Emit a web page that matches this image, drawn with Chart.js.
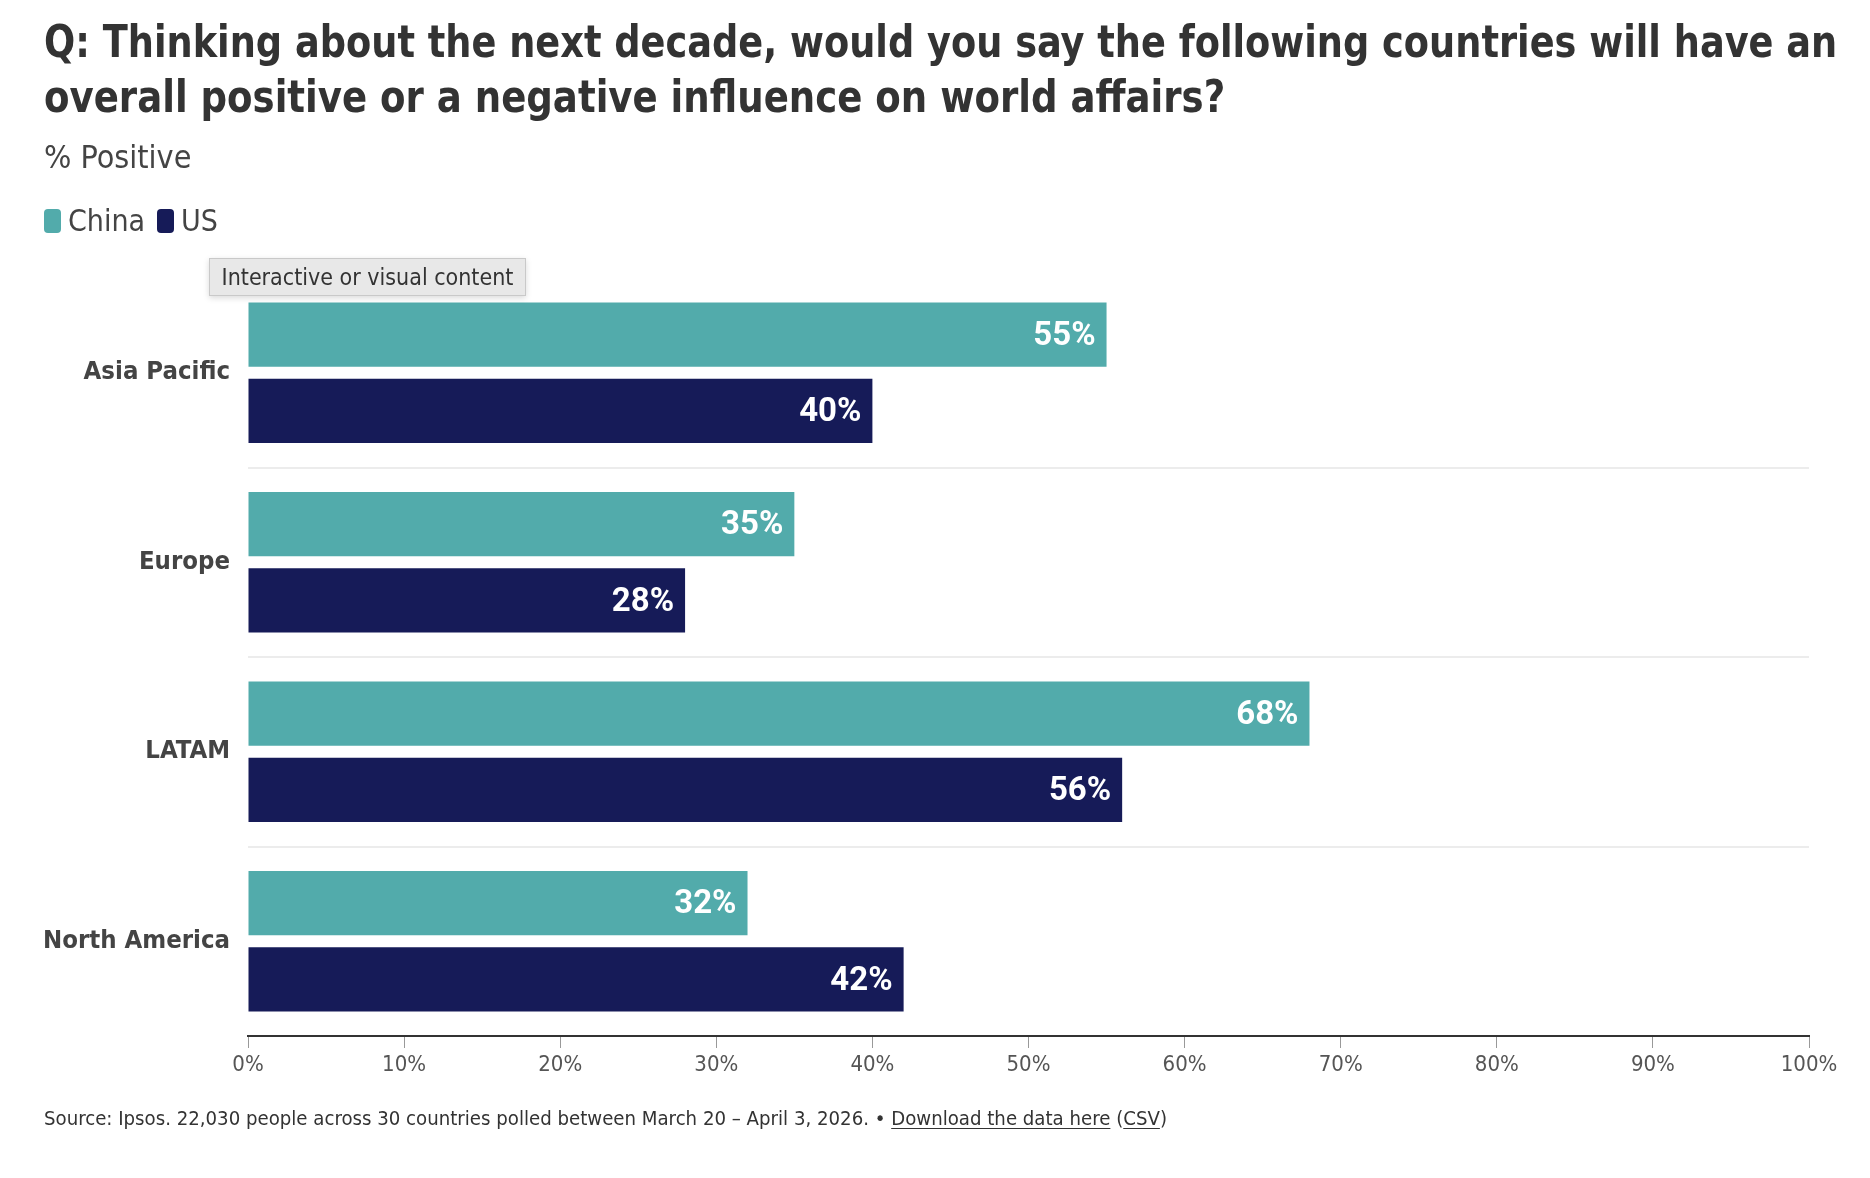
<!DOCTYPE html>
<html>
<head>
<meta charset="utf-8">
<script src="https://cdn.jsdelivr.net/npm/chart.js@4.4.1/dist/chart.umd.min.js"></script>
<style>
  html, body { margin: 0; padding: 0; background: #fff; }
  body { width: 1870px; height: 1178px; position: relative; overflow: hidden;
         font-family: 'Liberation Sans Narrow', 'DejaVu Sans Condensed', Roboto, sans-serif; }
  #wrap { position: absolute; left: 0; top: 0; width: 1870px; height: 1178px; }
  .title { position: absolute; left: 44px; top: 14px; font-size: 44px; font-weight: bold;
           line-height: 55px; color: #333; white-space: nowrap; }
  .title span { display: inline-block; transform-origin: 0 50%; }
  .sub { position: absolute; left: 44px; top: 138px; font-size: 32px; color: #444; }
  .legend { position: absolute; left: 44px; top: 203px; font-size: 30px; color: #444; display: flex; align-items: center; }
  .legend span.sw { display: inline-block; width: 17px; height: 24px; border-radius: 4px; margin-right: 7px; }
  .legend span.lab { margin-right: 12px; }
  .tip { position: absolute; left: 209px; top: 258px; width: 315px; height: 36px; background: #e8e8e8;
         border: 1px solid #c9c9c9; box-shadow: 0 2px 6px rgba(0,0,0,0.15);
         font-size: 23px; color: #333; line-height: 36px; text-align: center; z-index: 3; }
  .foot { position: absolute; left: 44px; top: 1106px; font-size: 20.2px; color: #333; white-space: nowrap; }
  .foot u { text-decoration-thickness: 1px; text-underline-offset: 3px; }
</style>
</head>
<body>
<div id="wrap"><canvas id="myChart"></canvas></div>
<div class="title"><span id="t1">Q: Thinking about the next decade, would you say the following countries will have an</span><br><span id="t2">overall positive or a negative influence on world affairs?</span></div>
<div class="sub">% Positive</div>
<div class="legend" id="legend"></div>
<div class="tip">Interactive or visual content</div>
<div class="foot">Source: Ipsos. 22,030 people across 30 countries polled between March 20 – April 3, 2026. • <u>Download the data here</u> (<u>CSV</u>)</div>
<script>
const ctx = document.getElementById('myChart');

const FONT = "'Liberation Sans Narrow', 'DejaVu Sans Condensed', Roboto, sans-serif";

let regions = ['Asia Pacific', 'Europe', 'LATAM', 'North America'];
let chinaData = [55, 35, 68, 32];
let usData = [40, 28, 56, 42];
let xTicks = [0, 10, 20, 30, 40, 50, 60, 70, 80, 90, 100];

// squeeze the title lines so they end where the original ones do
const t1 = document.getElementById('t1');
const t2 = document.getElementById('t2');
t1.style.transform = 'scaleX(' + (1793 / t1.offsetWidth) + ')';
t2.style.transform = 'scaleX(' + (1181 / t2.offsetWidth) + ')';

const data = {
    labels: regions,
    datasets: [
        {
            label: 'China',
            data: chinaData,
            backgroundColor: '#52abab'
        }, {
            label: 'US',
            data: usData,
            backgroundColor: '#161b58'
        }
    ]
};

// legend drawn as html, from the datasets
const legendEl = document.getElementById('legend');
data.datasets.forEach(ds => {
    legendEl.innerHTML += '<span class="sw" style="background:' + ds.backgroundColor + '"></span><span class="lab">' + ds.label + '</span>';
});

// white value labels inside the bar ends
const valueLabels = {
    id: 'valueLabels',
    afterDatasetsDraw(chart) {
        const c = chart.ctx;
        c.save();
        c.font = "bold 33px Roboto, sans-serif";
        c.fillStyle = '#ffffff';
        c.textAlign = 'right';
        c.textBaseline = 'middle';
        chart.data.datasets.forEach((ds, i) => {
            chart.getDatasetMeta(i).data.forEach((bar, j) => {
                c.fillText(ds.data[j] + '%', bar.x - 11, bar.y + 2);
            });
        });
        c.restore();
    }
};

const visibleChart = new Chart(ctx, {
    type: 'bar',
    data: data,
    plugins: [valueLabels],
    options: {
        indexAxis: 'y',
        responsive: true,
        maintainAspectRatio: false,
        animation: false,
        categoryPercentage: 0.805,
        barPercentage: 0.844,
        layout: { padding: { top: 278, left: 0, right: 61, bottom: 92 } },
        plugins: {
            legend: { display: false },
            tooltip: { enabled: false }
        },
        scales: {
            x: {
                min: 0,
                max: 100,
                afterBuildTicks: (scale) => { scale.ticks = xTicks.map(v => ({ value: v })); },
                afterFit: (scale) => { scale.height = 50; },
                grid: { drawOnChartArea: false, drawTicks: true, tickLength: 12, color: '#999', lineWidth: 1 },
                border: { display: true, color: '#333', width: 2 },
                ticks: {
                    padding: 4,
                    color: '#555',
                    font: { family: FONT, size: 22 },
                    callback: (v) => v + '%'
                }
            },
            y: {
                afterFit: (scale) => { scale.width = 248; },
                grid: {
                    offset: true,
                    drawTicks: false,
                    lineWidth: 2,
                    color: (c) => (c.index === 0 || c.index === regions.length) ? 'rgba(0,0,0,0)' : '#ececec'
                },
                border: { display: false },
                ticks: {
                    padding: 18,
                    color: '#444',
                    font: { family: FONT, size: 25.5, weight: 'bold' }
                }
            }
        }
    }
});
</script>
</body>
</html>
